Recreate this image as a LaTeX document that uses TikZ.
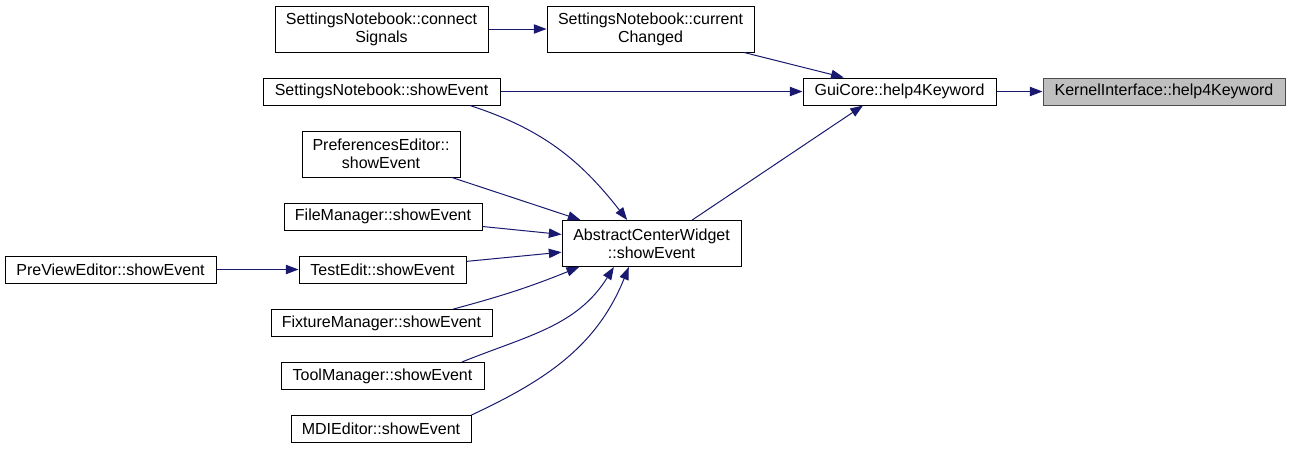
\documentclass[tikz,border=0pt]{standalone}
\usepackage{fontspec}
\setmainfont{Liberation Sans}
\usetikzlibrary{arrows.meta}
\definecolor{edgeblue}{RGB}{25,25,112}
\definecolor{curgrey}{RGB}{191,191,191}

\tikzset{
  fn/.style={draw=black, fill=white, line width=0.75pt, inner sep=0pt,
    minimum height=20.25pt, align=center,
    font=\fontsize{12}{13.5}\selectfont},
  fn2/.style={fn, minimum height=34.5pt},
  call/.style={draw=edgeblue, line width=0.75pt,
    -{Triangle[length=9.5pt,width=7pt]}}
}

\begin{document}
\begin{tikzpicture}[x=0.75pt, y=-0.75pt]
    \useasboundingbox (0,0) rectangle (1291,450);

    % Callee and its direct callers
    \node[fn, fill=curgrey, draw=black!70, minimum width=181.5pt] (ki) at (1164,91.5) {KernelInterface::help4Keyword};
    \node[fn, minimum width=144.75pt] (gc) at (899.5,91.5) {GuiCore::help4Keyword};
    \node[fn2, minimum width=155.25pt] (cc) at (650.5,29) {SettingsNotebook::current\\Changed};
    \node[fn2, minimum width=159.75pt] (cs) at (381.5,29) {SettingsNotebook::connect\\Signals};
    \node[fn, minimum width=177.75pt] (sns) at (381.5,91.5) {SettingsNotebook::showEvent};
    \node[fn2, minimum width=134.25pt] (acw) at (651.5,243.5) {AbstractCenterWidget\\::showEvent};

    % Callers of AbstractCenterWidget::showEvent
    \node[fn2, minimum width=118.5pt] (pe) at (381,154) {PreferencesEditor::\\showEvent};
    \node[fn, minimum width=148.5pt] (fm) at (383,216.5) {FileManager::showEvent};
    \node[fn, minimum width=125.25pt] (te) at (382.5,269.5) {TestEdit::showEvent};
    \node[fn, minimum width=158.25pt] (pve) at (110.5,269.5) {PreViewEditor::showEvent};
    \node[fn, minimum width=165.75pt] (fxm) at (381.5,323) {FixtureManager::showEvent};
    \node[fn, minimum width=152.25pt] (tm) at (382.5,376) {ToolManager::showEvent};
    \node[fn, minimum width=135pt] (mdi) at (381,429) {MDIEditor::showEvent};

    % Edges
    \draw[call] (gc) -- (ki);
    \draw[call] (cs) -- (cc);
    \draw[call] (cc) -- (gc);
    \draw[call] (sns) -- (gc);
    \draw[call] (acw.30) -- (gc.201);
    \draw[call] (pve) -- (te);
    \draw[call] (sns.-9) to[out=-18,in=128] (acw.136);
    \foreach \n in {pe,fm,te}{
      \draw[call] (\n) -- (acw);
    }
    \draw[call] (fxm.11) to[out=15,in=-158] (acw.198);
    \draw[call] (tm.10) to[out=22,in=-122] (acw.212);
    \draw[call] (mdi.north east) to[out=25,in=-112] (acw.226);
\end{tikzpicture}
\end{document}
